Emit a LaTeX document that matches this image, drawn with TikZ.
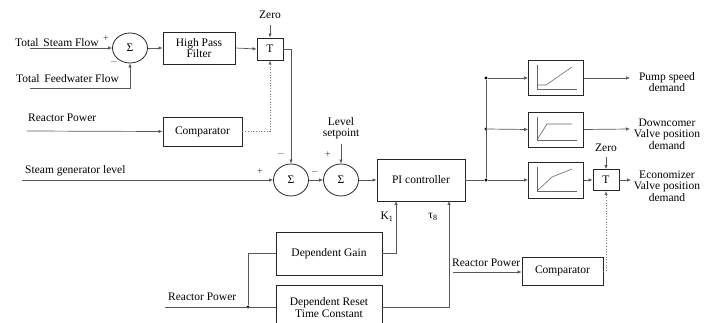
\documentclass[tikz,border=0pt]{standalone}
\usepackage{fontspec}
\setmainfont{Liberation Serif}
\usetikzlibrary{arrows.meta,shapes.geometric}
\begin{document}
\begin{tikzpicture}[x=1pt,y=-1pt,
  every node/.style={font=\fontsize{11.5}{12.5}\selectfont, inner sep=0pt},
  blk/.style={draw=black!85, line width=0.8pt, rectangle, align=center},
  sumnode/.style={draw=black!85, line width=0.8pt, ellipse, minimum width=35pt, minimum height=32pt},
  conn/.style={draw=black!65, line width=0.7pt},
  arr/.style={conn, -{Latex[length=4pt,width=3.6pt]}},
  dots/.style={draw=black!55, line width=0.7pt, dotted},
  darr/.style={dots, -{Latex[length=4pt,width=3.6pt]}},
  lbl/.style={align=center},
  sgn/.style={font=\fontsize{10}{10}\selectfont, text=black!80},
  jdot/.style={circle, fill=black, minimum size=3.2pt, inner sep=0pt},
  plot/.style={draw=black!60, line width=0.6pt}
]
\useasboundingbox (0,0) rectangle (713,323);

% ---- top left ----
\node[sumnode, minimum height=30pt] (s1) at (130,48) {Σ};
\node[blk, minimum width=72pt, minimum height=32pt] (hpf) at (199,48) {High Pass\\[-1pt]Filter};
\node[blk, minimum width=26pt, minimum height=22pt] (t1) at (270,49) {T};
\node (z1) at (270,15) {Zero};
\coordinate (z1e) at (270,25);
\node[anchor=west] (tsf) at (15,43) {Total\, Steam Flow};
\coordinate (tsfs) at (30,48);
\node[anchor=west] (tfw) at (16,79) {Total\, Feedwater Flow};
\coordinate (tfws) at (30,88);
\node[sgn] at (106,39) {+};
\node[sgn] at (114,62) {$-$};
\node[anchor=west] (rp1) at (28,118) {Reactor Power};
\coordinate (rp1s) at (27,131);
\node[blk, minimum width=79pt, minimum height=29pt] (c1) at (202.5,131.5) {Comparator};

\draw[arr] (tsfs) -- (s1.west);
\draw[arr] (tfws) -| (s1.south);
\draw[arr] (s1.east) -- (hpf.west);
\draw[arr] (hpf.east) -- (t1.west);
\draw[arr] (z1e) -- (t1.north);
\draw[arr] (rp1s) -- (c1.west);
\draw[darr] (c1.east) -| (t1.south);

% ---- middle row ----
\node[sumnode] (s2) at (291,180) {Σ};
\node[sumnode] (s3) at (341,180) {Σ};
\node[blk, minimum width=88pt, minimum height=42pt] (pi) at (421,180) {PI controller};
\node[anchor=west] (sgl) at (25,171) {Steam generator level};
\coordinate (sgls) at (22,180);
\node[lbl] (ls) at (341,128) {Level\\[-1pt]setpoint};
\coordinate (lse) at (341,144);
\node[sgn] at (260,172) {+};
\node[sgn] at (281,154) {$-$};
\node[sgn] at (315,172) {$-$};
\node[sgn] at (328,155) {+};

\draw[arr] (t1.east) -- (291,49) -- (s2.north);
\draw[arr] (sgls) -- (s2.west);
\draw[arr] (s2.east) -- (s3.west);
\draw[arr] (lse) -- (s3.north);
\draw[arr] (s3.east) -- (pi.west);

% ---- right branch ----
\node[jdot] (j3) at (486,180) {};
\node[jdot] (j2) at (486,129) {};
\node[jdot] (j1) at (486,78) {};
\node[blk, minimum width=55pt, minimum height=35pt] (b1) at (556,78) {};
\node[blk, minimum width=55pt, minimum height=35pt] (b2) at (556,129.5) {};
\node[blk, minimum width=55pt, minimum height=36pt] (b3) at (556,180) {};
\node[blk, minimum width=26pt, minimum height=21pt] (t2) at (606,180) {T};
\node (z2) at (606,148) {Zero};
\coordinate (z2e) at (606,157);
\coordinate (o1) at (630,78);
\coordinate (o2) at (630,129);
\coordinate (o3) at (631,180);
\node[lbl] (d1) at (667,82) {Pump speed\\[-1pt]demand};
\node[lbl] (d2) at (667,134) {Downcomer\\[-1pt]Valve position\\[-1pt]demand};
\node[lbl] (d3) at (667,186) {Economizer\\[-1pt]Valve position\\[-1pt]demand};

\draw[conn] (pi.east) -- (j3);
\draw[conn] (j3) -- (j1);
\draw[arr] (j1) -- (b1.west);
\draw[arr] (j2) -- (b2.west);
\draw[arr] (j3) -- (b3.west);
\draw[arr] (b1.east) -- (o1);
\draw[arr] (b2.east) -- (o2);
\draw[arr] (b3.east) -- (t2.west);
\draw[arr] (z2e) -- (t2.north);
\draw[arr] (t2.east) -- (o3);

% plots inside boxes
\draw[plot] (537,65) -- (537,89) -- (577,89);
\draw[plot] (537,85) -- (546,85) -- (572,67);
\draw[plot] (537,117) -- (537,140) -- (577,140);
\draw[plot] (537,140) -- (547,124) -- (572,124);
\draw[plot] (537,167) -- (537,191) -- (577,191);
\draw[plot] (537,191) -- (552,177) -- (572,169);

% ---- bottom ----
\node[blk, minimum width=106pt, minimum height=43pt] (dg) at (329,253.5) {Dependent Gain};
\node[blk, minimum width=106pt, minimum height=45pt, text depth=0pt] (dr) at (329,307.5) {Dependent Reset\\[-1pt]Time Constant};
\node (k1) at (387,217) {K\textsubscript{1}};
\node (tau) at (433,217) {τ\textsubscript{8}};
\node[anchor=west] (rp2) at (168,297) {Reactor Power};
\coordinate (rp2s) at (165,307);
\node[jdot] (j4) at (248,307) {};
\coordinate (pik) at (396,201);
\coordinate (pit) at (449,201);

\draw[conn] (rp2s) -- (dr.west |- rp2s);
\draw[conn] (j4) |- (dg.west);
\draw[arr] (dg.east) -| (pik);
\draw[arr] (dr.east |- rp2s) -| (pit);

\node[blk, minimum width=81pt, minimum height=28pt] (c2) at (562.5,271) {Comparator};
\node[anchor=west] (rp3) at (452,263) {Reactor Power};
\coordinate (rp3s) at (453,272);
\draw[arr] (rp3s) -- (c2.west |- rp3s);
\draw[darr] (c2.east) -| (t2.south);
\end{tikzpicture}
\end{document}
